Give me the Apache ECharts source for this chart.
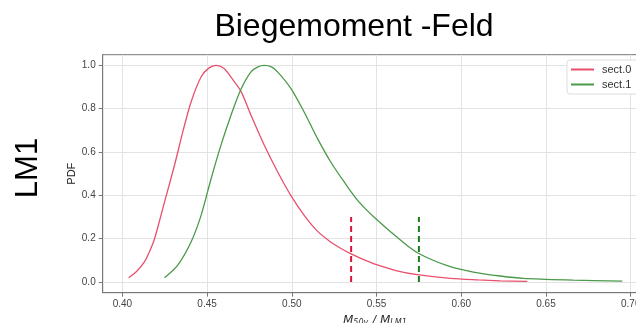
<!DOCTYPE html>
<html>
<head>
<meta charset="utf-8">
<script src="https://cdn.jsdelivr.net/npm/echarts@6/dist/echarts.min.js"></script>
<style>
html,body{margin:0;padding:0;background:#fff;}
#chart{width:636px;height:323px;}
</style>
</head>
<body>
<div id="chart"></div>
<script>
// values
var sect0X = [0.4037,0.4085,0.4131,0.416,0.419,0.4249,0.4308,0.4357,0.4406,0.4465,0.451,0.4553,0.460,0.465,0.470,0.4759,0.4837,0.4916,0.4994,0.5072,0.5151,0.5229,0.529,0.535,0.542,0.550,0.562,0.574,0.5935,0.610,0.623,0.639];
var sect0Y = [0.02,0.05,0.094,0.14,0.20,0.37,0.54,0.694,0.832,0.947,0.987,1.0,0.985,0.936,0.88,0.77,0.632,0.509,0.40,0.309,0.235,0.185,0.155,0.13,0.105,0.08,0.052,0.034,0.017,0.010,0.006,0.003];
var sect1X = [0.4249,0.4327,0.4406,0.4465,0.4524,0.4582,0.4641,0.470,0.4759,0.480,0.4837,0.488,0.4916,0.4994,0.5072,0.5151,0.5229,0.5308,0.5396,0.5504,0.5641,0.5749,0.5935,0.608,0.623,0.6366,0.666,0.695];
var sect1Y = [0.02,0.078,0.186,0.309,0.478,0.632,0.77,0.89,0.97,0.993,1.0,0.993,0.97,0.894,0.786,0.663,0.555,0.463,0.37,0.286,0.194,0.132,0.071,0.045,0.028,0.017,0.009,0.004];
var markX = [0.535, 0.575];
var markTop = 0.3;
var xTicks = [0.40,0.45,0.50,0.55,0.60,0.65,0.70];
var yTicks = [0.0,0.2,0.4,0.6,0.8,1.0];
var names = ['sect.0','sect.1'];

function pairs(xs, ys){
    var res = [];
    for(var i = 0; i < xs.length; i++){
        res.push([xs[i], ys[i]]);
    }
    return res;
}

var lineCol = ['#e8506e','#4a9a4a'];
var dashCol = ['#dc143c','#1a7d1a'];

var chart = echarts.init(document.getElementById('chart'));
var option = {
    animation: false,
    textStyle: {fontFamily: 'Liberation Sans'},
    title: {
        text: 'Biegemoment -Feld',
        left: 349, top: 6, textAlign: 'center',
        textStyle: {fontSize: 32, fontWeight: 'normal', color: '#000', fontFamily: 'Liberation Sans'}
    },
    graphic: [{
        type: 'text', x: 28, y: 168, rotation: Math.PI/2,
        style: {text: 'LM1', fontSize: 31, fill: '#000', align: 'center', verticalAlign: 'middle', fontFamily: 'Liberation Sans'}
    }],
    legend: {
        data: names, orient: 'vertical', left: 567, top: 60,
        backgroundColor: '#fff', borderColor: '#ddd', borderWidth: 1, borderRadius: 3,
        padding: [4, 20, 4, 4], itemGap: 4,
        icon: 'rect', itemWidth: 23, itemHeight: 2,
        textStyle: {fontSize: 11, color: '#333', padding: [0,0,0,3]}
    },
    grid: {left: 102.7, right: -11, top: 54.7, bottom: 30.3, outerBoundsMode: 'none', containLabel: false,
        show: true, borderColor: '#777', borderWidth: 1},
    xAxis: {
        type: 'value', min: 0.3884, max: 0.7096,
        name: '{i|M}{s|50y}{i| / M}{s|LM1}', nameLocation: 'middle', nameGap: 19,
        nameTextStyle: {
            rich: {
                i: {fontStyle: 'italic', fontSize: 12, color: '#333', fontFamily: 'DejaVu Sans'},
                s: {fontStyle: 'italic', fontSize: 8, color: '#333', verticalAlign: 'bottom', padding: [5,0,0,0], fontFamily: 'DejaVu Sans'}
            }
        },
        axisLine: {show: true, onZero: false, lineStyle: {color: '#777'}},
        axisTick: {show: true, length: 4, customValues: xTicks, lineStyle: {color: '#777'}},
        axisLabel: {customValues: xTicks, fontSize: 10, color: '#444', margin: 7, formatter: function(v){ return v.toFixed(2); }},
        splitLine: {show: true, lineStyle: {color: '#e3e3e3'}}
    },
    yAxis: {
        type: 'value', min: -0.049, max: 1.049,
        name: 'PDF', nameLocation: 'middle', nameGap: 25, nameMoveOverlap: false,
        nameTextStyle: {fontSize: 11, color: '#222'},
        axisLine: {show: true, onZero: false, lineStyle: {color: '#777'}},
        axisTick: {show: true, length: 4, customValues: yTicks, lineStyle: {color: '#777'}},
        axisLabel: {customValues: yTicks, fontSize: 10, color: '#444', margin: 7, formatter: function(v){ return v.toFixed(1); }},
        splitLine: {show: true, lineStyle: {color: '#e3e3e3'}}
    },
    series: [
        {name: names[0], type: 'line', data: pairs(sect0X, sect0Y), smooth: 0.3, showSymbol: false, color: lineCol[0], lineStyle: {width: 1.3}},
        {name: names[1], type: 'line', data: pairs(sect1X, sect1Y), smooth: 0.3, showSymbol: false, color: lineCol[1], lineStyle: {width: 1.3}},
        {type: 'line', data: [[markX[0],0],[markX[0],markTop]], showSymbol: false, color: dashCol[0], lineStyle: {width: 2, type: [6,4]}},
        {type: 'line', data: [[markX[1],0],[markX[1],markTop]], showSymbol: false, color: dashCol[1], lineStyle: {width: 2, type: [6,4]}}
    ]
};
chart.setOption(option);
</script>
</body>
</html>
